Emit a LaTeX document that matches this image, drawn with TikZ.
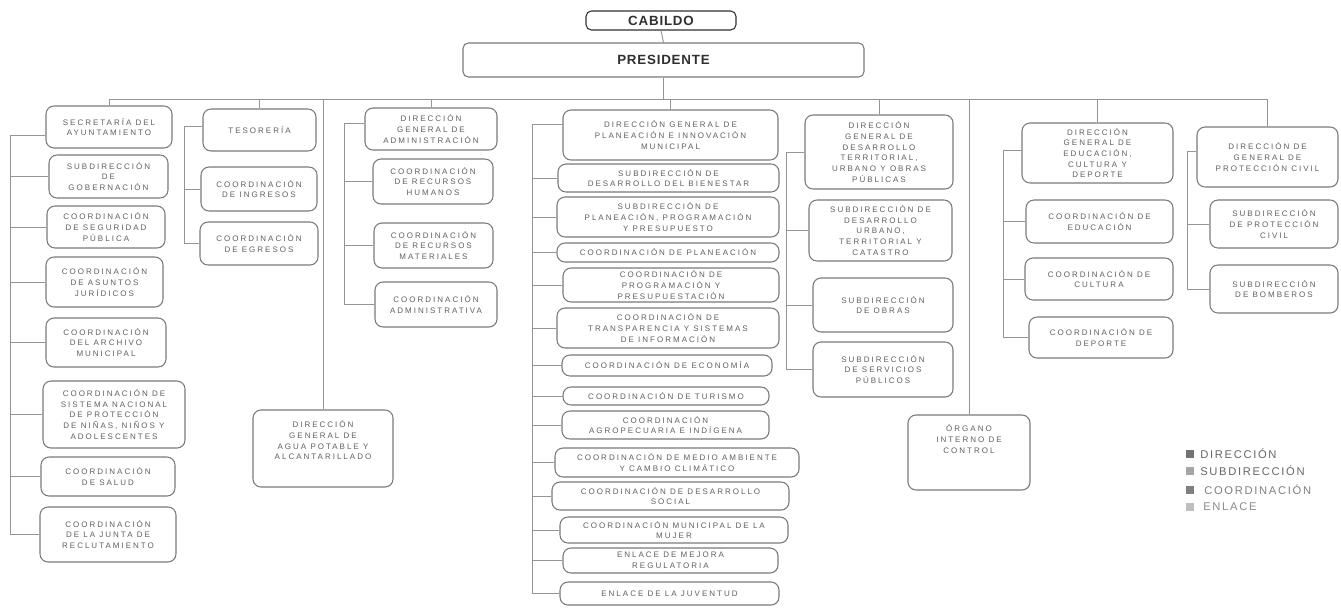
\documentclass[tikz,border=0pt]{standalone}
\usepackage{fontspec}
\setmainfont{Liberation Sans}
\newfontfamily\boxfont[LetterSpace=25]{Liberation Sans}
\newfontfamily\headfont[LetterSpace=6]{Liberation Sans}
\newfontfamily\legfont[LetterSpace=15]{Liberation Sans}
\definecolor{boxgray}{HTML}{7A7A7A}
\definecolor{linegray}{HTML}{949494}
\definecolor{txtgray}{HTML}{606060}
\definecolor{headtxt}{HTML}{303030}
\newcommand{\bx}[7][]{%
  \pgfmathsetmacro\bxw{(#5-#3)*0.75}%
  \pgfmathsetmacro\bxh{(#6-#4)*0.75}%
  \node[box,minimum width=\bxw pt,minimum height=\bxh pt,#1] (#2) at ({(#3+#5)/2},{(#4+#6)/2}) {#7};}
\tikzset{
  box/.style={draw=boxgray,line width=0.8pt,rounded corners=6pt,align=center,
    inner sep=1pt,text=txtgray,font=\boxfont\fontsize{6}{8}\selectfont},
  head/.style={text=headtxt,rounded corners=4pt,font=\headfont\bfseries\fontsize{10}{12}\selectfont},
  link/.style={draw=linegray,line width=0.7pt},
  legsq/.style={draw=none,minimum size=5.5pt,inner sep=0pt},
  legtxt/.style={anchor=west,inner sep=0pt,font=\legfont\fontsize{8.4}{10}\selectfont},
}
\begin{document}
\begin{tikzpicture}[x=0.75pt,y=-0.75pt]
\fill[white] (0,0) rectangle (1341,607);
\useasboundingbox (0,0) rectangle (1341,607);
% top
\bx[head,draw=headtxt]{cab}{586}{11}{736}{30}{CABILDO}
\bx[head]{pres}{463}{43}{864}{77}{PRESIDENTE}
% column 1
\bx{secr}{46}{106}{172}{148}{SECRETARÍA DEL\\AYUNTAMIENTO}
\bx{gob}{49}{155}{168}{198}{SUBDIRECCIÓN\\DE\\GOBERNACIÓN}
\bx{segp}{47}{206}{165}{248}{COORDINACIÓN\\DE SEGURIDAD\\PÚBLICA}
\bx{jur}{46}{257}{163}{307}{COORDINACIÓN\\DE ASUNTOS\\JURÍDICOS}
\bx{arch}{46}{318}{166}{367}{COORDINACIÓN\\DEL ARCHIVO\\MUNICIPAL}
\bx{sist}{43}{381}{185}{448}{COORDINACIÓN DE\\SISTEMA NACIONAL\\DE PROTECCIÓN\\DE NIÑAS, NIÑOS Y\\ADOLESCENTES}
\bx{sal}{41}{457}{175}{496}{COORDINACIÓN\\DE SALUD}
\bx{junta}{40}{507}{176}{562}{COORDINACIÓN\\DE LA JUNTA DE\\RECLUTAMIENTO}
% column 2
\bx{tes}{203}{109}{316}{151}{TESORERÍA}
\bx{ing}{201}{167}{317}{211}{COORDINACIÓN\\DE INGRESOS}
\bx{egr}{200}{222}{318}{265}{COORDINACIÓN\\DE EGRESOS}
\bx{agua}{253}{410}{393}{487}{DIRECCIÓN\\GENERAL DE\\AGUA POTABLE Y\\ALCANTARILLADO\\[4pt]~}
% column 3
\bx{adm}{365}{108}{497}{150}{DIRECCIÓN\\GENERAL DE\\ADMINISTRACIÓN}
\bx{rh}{373}{159}{493}{204}{COORDINACIÓN\\DE RECURSOS\\HUMANOS}
\bx{rm}{374}{223}{493}{268}{COORDINACIÓN\\DE RECURSOS\\MATERIALES}
\bx{cadm}{375}{282}{497}{327}{COORDINACIÓN\\ADMINISTRATIVA}
% column 4
\bx{plan}{563}{110}{778}{160}{DIRECCIÓN GENERAL DE\\PLANEACIÓN E INNOVACIÓN\\MUNICIPAL}
\bx{bien}{558}{164}{779}{192}{SUBDIRECCIÓN DE\\DESARROLLO DEL BIENESTAR}
\bx{ppp}{557}{197}{779}{237}{SUBDIRECCIÓN DE\\PLANEACIÓN, PROGRAMACIÓN\\Y PRESUPUESTO}
\bx{cplan}{557}{243}{779}{262}{COORDINACIÓN DE PLANEACIÓN}
\bx{cpp}{563}{268}{779}{302}{COORDINACIÓN DE\\PROGRAMACIÓN Y\\PRESUPUESTACIÓN}
\bx{trans}{557}{308}{779}{348}{COORDINACIÓN DE\\TRANSPARENCIA Y SISTEMAS\\DE INFORMACIÓN}
\bx{eco}{562}{355}{772}{376}{COORDINACIÓN DE ECONOMÍA}
\bx{tur}{563}{387}{769}{405}{COORDINACIÓN DE TURISMO}
\bx{agro}{562}{411}{769}{439}{COORDINACIÓN\\AGROPECUARIA E INDÍGENA}
\bx{medio}{555}{448}{799}{477}{COORDINACIÓN DE MEDIO AMBIENTE\\Y CAMBIO CLIMÁTICO}
\bx{dsoc}{552}{482}{789}{510}{COORDINACIÓN DE DESARROLLO\\SOCIAL}
\bx{mujer}{560}{517}{788}{543}{COORDINACIÓN MUNICIPAL DE LA\\MUJER}
\bx{mejora}{563}{548}{778}{573}{ENLACE DE MEJORA\\REGULATORIA}
\bx{juv}{560}{582}{779}{605}{ENLACE DE LA JUVENTUD}
% column 5
\bx{dter}{805}{115}{953}{189}{DIRECCIÓN\\GENERAL DE\\DESARROLLO\\TERRITORIAL,\\URBANO Y OBRAS\\PÚBLICAS}
\bx{urb}{809}{200}{952}{261}{SUBDIRECCIÓN DE\\DESARROLLO\\URBANO,\\TERRITORIAL Y\\CATASTRO}
\bx{obras}{813}{278}{953}{332}{SUBDIRECCIÓN\\DE OBRAS}
\bx{serv}{813}{342}{953}{397}{SUBDIRECCIÓN\\DE SERVICIOS\\PÚBLICOS}
\bx{org}{908}{415}{1030}{490}{ÓRGANO\\INTERNO DE\\CONTROL\\[12pt]~}
% column 6
\bx{edu}{1022}{123}{1173}{183}{DIRECCIÓN\\GENERAL DE\\EDUCACIÓN,\\CULTURA Y\\DEPORTE}
\bx{cedu}{1026}{200}{1173}{243}{COORDINACIÓN DE\\EDUCACIÓN}
\bx{ccul}{1025}{258}{1173}{300}{COORDINACIÓN DE\\CULTURA}
\bx{cdep}{1029}{317}{1173}{358}{COORDINACIÓN DE\\DEPORTE}
% column 7
\bx{prot}{1197}{127}{1338}{187}{DIRECCIÓN DE\\GENERAL DE\\PROTECCIÓN CIVIL}
\bx{sprot}{1210}{200}{1338}{248}{SUBDIRECCIÓN\\DE PROTECCIÓN\\CIVIL}
\bx{bomb}{1210}{265}{1338}{313}{SUBDIRECCIÓN\\DE BOMBEROS}
% connectors
\coordinate (bar) at (0,99);
\draw[link] (cab.south) -- (pres.north);
\draw[link] (pres.south) -- (pres.south |- bar);
\draw[link] (secr.north |- bar) -- (prot.north |- bar);
\foreach \n in {secr,tes,adm,plan,dter,edu,prot,agua,org}
  \draw[link] (\n.north) -- (\n.north |- bar);
% brackets
\coordinate (bA) at (10,0);
\draw[link] ([yshift=-6pt]secr.west) -| (junta.west -| bA) -- (junta.west);
\foreach \n in {gob,segp,jur,arch,sist,sal}
  \draw[link] (\n.west) -- (\n.west -| bA);
\coordinate (bB) at (184,0);
\draw[link] ([yshift=3pt]tes.west) -| (egr.west -| bB) -- (egr.west);
\draw[link] (ing.west) -- (ing.west -| bB);
\coordinate (bC) at (344,0);
\draw[link] ([yshift=4pt]adm.west) -| (cadm.west -| bC) -- (cadm.west);
\foreach \n in {rh,rm}
  \draw[link] (\n.west) -- (\n.west -| bC);
\coordinate (bD) at (532,0);
\draw[link] ([yshift=8pt]plan.west) -| (juv.west -| bD) -- (juv.west);
\foreach \n in {bien,ppp,cplan,cpp,trans,eco,tur,agro,medio,dsoc,mujer,mejora}
  \draw[link] (\n.west) -- (\n.west -| bD);
\coordinate (bE) at (786,0);
\draw[link] (dter.west) -| (serv.west -| bE) -- (serv.west);
\foreach \n in {urb,obras}
  \draw[link] (\n.west) -- (\n.west -| bE);
\coordinate (bF) at (1003,0);
\draw[link] ([yshift=2pt]edu.west) -| (cdep.west -| bF) -- (cdep.west);
\foreach \n in {cedu,ccul}
  \draw[link] (\n.west) -- (\n.west -| bF);
\coordinate (bG) at (1187,0);
\draw[link] ([yshift=4pt]prot.west) -| (bomb.west -| bG) -- (bomb.west);
\draw[link] (sprot.west) -- (sprot.west -| bG);
% legend
\node[legsq,fill=black!55] (q1) at (1190,454) {};
\node[legsq,fill=black!35] (q2) at (1190,471) {};
\node[legsq,fill=black!50] (q3) at (1190,490) {};
\node[legsq,fill=black!25] (q4) at (1190,507) {};
\node[legtxt,text=black!60] (l1) at (1200,454) {DIRECCIÓN};
\node[legtxt,text=black!60] (l2) at (1200,471) {SUBDIRECCIÓN};
\node[legtxt,text=black!50] (l3) at (1204,490) {COORDINACIÓN};
\node[legtxt,text=black!45] (l4) at (1203,507) {ENLACE};
\end{tikzpicture}
\end{document}
